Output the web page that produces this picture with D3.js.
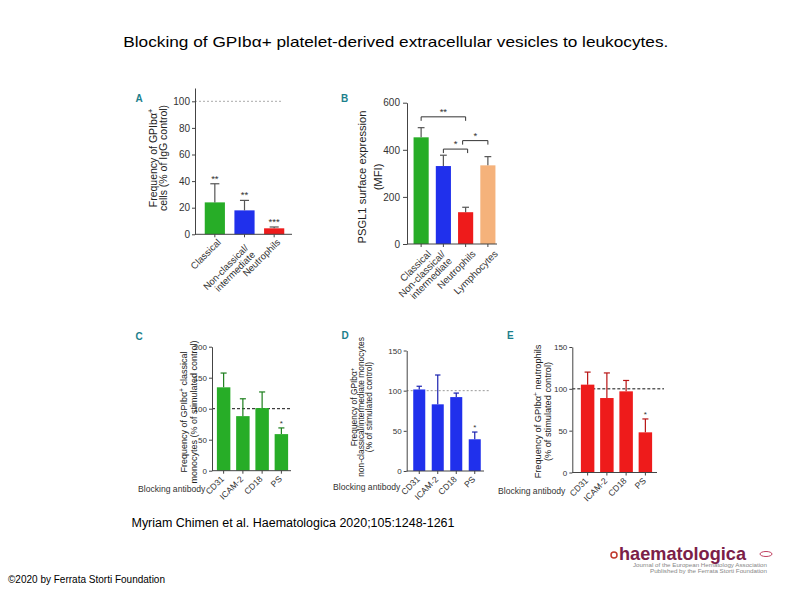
<!DOCTYPE html>
<html><head><meta charset="utf-8">
<script src="https://cdn.jsdelivr.net/npm/d3@7"></script>
<style>
body{margin:0;background:#fff}
text{font-family:"Liberation Sans",Arial,sans-serif}
</style>
</head><body>
<svg id="chart" width="794" height="595"></svg>
<script>
// ---------------- DATA ----------------
const titleText = "Blocking of GPIbα+ platelet-derived extracellular vesicles to leukocytes.";
const captionText = "Myriam Chimen et al. Haematologica 2020;105:1248-1261";
const footerText = "©2020 by Ferrata Storti Foundation";

// Panel A
const aCategories = [["Classical"], ["Non-classical/", "intermediate"], ["Neutrophils"]];
const aValues = [24, 18, 4.5];
const aErrors = [38, 25.5, 5.5];
const aStars = ["**", "**", "***"];
const aTicks = [0, 20, 40, 60, 80, 100];

// Panel B
const bCategories = [["Classical"], ["Non-classical/", "intermediate"], ["Neutrophils"], ["Lymphocytes"]];
const bValues = [453, 331, 135, 334];
const bErrors = [494, 377, 156, 371];
const bTicks = [0, 200, 400, 600];
const bBrackets = [[0, 2, 540, "**"], [1, 2, 403, "*"], [2, 3, 439, "*"]];

// Panels C, D, E (blocking antibodies)
const blockCategories = [["CD31"], ["ICAM-2"], ["CD18"], ["PS"]];
const cValues = [134.5, 88, 101, 59];
const cErrors = [157.5, 116, 127, 69];
const cStars = ["", "", "", "*"];
const cTicks = [0, 50, 100, 150, 200];

const dValues = [101.5, 83, 92, 39.5];
const dErrors = [105.5, 119.5, 97, 48.5];
const dStars = ["", "", "", "*"];
const dTicks = [0, 50, 100, 150];

const eValues = [105, 89, 97, 48];
const eErrors = [120, 119, 110, 64];
const eStars = ["", "", "", "*"];
const eTicks = [0, 50, 100, 150];

// ---------------- STYLE ----------------
const GREEN = "#27ad27", BLUE = "#2030ec", RED = "#ee1b1b", TAN = "#f5b27b";
const TEAL = "#1c7f8c";

const svg = d3.select("#chart");

function addLabelText(sel, s) {
  const idx = s.indexOf("GPIbα+");
  if (idx >= 0) {
    sel.append("tspan").text(s.slice(0, idx + 5));
    sel.append("tspan").attr("baseline-shift", "super").attr("font-size", "70%").text("+");
    sel.append("tspan").text(s.slice(idx + 6));
  } else sel.text(s);
}

function panel(cfg) {
  const g = svg.append("g");
  const y = d3.scaleLinear().domain(cfg.yDomain).range(cfg.yRange);
  const x = d3.scaleBand().domain(cfg.cats.map((d, i) => i)).range(cfg.xRange)
    .paddingInner(cfg.pad).paddingOuter(cfg.pad / 2);
  const y0 = y(0);

  if (cfg.refLine) {
    g.append("line").attr("x1", cfg.axisX).attr("x2", cfg.refEnd)
      .attr("y1", y(100)).attr("y2", y(100))
      .attr("stroke", cfg.refColor).attr("stroke-width", 1)
      .attr("stroke-dasharray", cfg.refDash);
  }

  g.selectAll("rect.bar").data(cfg.values).join("rect")
    .attr("x", (d, i) => x(i)).attr("width", x.bandwidth())
    .attr("y", d => y(d)).attr("height", d => y0 - y(d))
    .attr("fill", (d, i) => cfg.colors[i]);

  const cap = x.bandwidth() * 0.45;
  cfg.errors.forEach((e, i) => {
    const cx = x(i) + x.bandwidth() / 2;
    const col = cfg.errColor || cfg.colors[i];
    g.append("line").attr("x1", cx).attr("x2", cx).attr("y1", y(cfg.values[i])).attr("y2", y(e))
      .attr("stroke", col).attr("stroke-width", 1.2);
    g.append("line").attr("x1", cx - cap / 2).attr("x2", cx + cap / 2).attr("y1", y(e)).attr("y2", y(e))
      .attr("stroke", col).attr("stroke-width", 1.2);
    if (cfg.stars && cfg.stars[i]) {
      g.append("text").attr("x", cx).attr("y", y(e) - 2).attr("text-anchor", "middle")
        .attr("font-size", cfg.starSize).attr("fill", "#333").text(cfg.stars[i]);
    }
  });

  const ya = d3.axisLeft(y).tickValues(cfg.ticks).tickSize(cfg.tickSize).tickSizeOuter(0)
    .tickPadding(cfg.tickPad).tickFormat(d3.format("d"));
  const ag = g.append("g").attr("transform", `translate(${cfg.axisX},0)`).call(ya);
  ag.selectAll("path,line").attr("stroke", "#444").attr("stroke-width", 1);
  ag.selectAll("text").attr("font-size", cfg.tickFont).attr("fill", "#333")
    .attr("font-family", '"Liberation Sans",Arial,sans-serif');

  g.append("line").attr("x1", cfg.axisX).attr("x2", cfg.xEnd).attr("y1", y0).attr("y2", y0)
    .attr("stroke", "#444").attr("stroke-width", 1);
  cfg.cats.forEach((c, i) => {
    const cx = x(i) + x.bandwidth() / 2;
    g.append("line").attr("x1", cx).attr("x2", cx).attr("y1", y0).attr("y2", y0 + 3)
      .attr("stroke", "#444");
    const t = g.append("g").attr("transform", `translate(${cx},${y0}) rotate(-45)`);
    const multi = c.length > 1;
    c.forEach((line, k) => {
      t.append("text").attr("text-anchor", "end").attr("font-size", cfg.lblFont).attr("fill", "#333")
        .attr("x", multi ? cfg.lbl.mrx : cfg.lbl.rx)
        .attr("y", multi ? cfg.lbl.mry + k * cfg.lbl.gap : cfg.lbl.ry)
        .attr("dy", "0.35em").text(line);
    });
  });

  cfg.yLabel.forEach((line, k) => {
    const t = g.append("text")
      .attr("transform", `translate(${cfg.yLabelX[k]},${cfg.yLabelY}) rotate(-90)`)
      .attr("text-anchor", "middle").attr("dy", "0.35em")
      .attr("font-size", cfg.yLabelFont).attr("fill", "#222");
    addLabelText(t, line);
  });

  g.append("text").attr("x", cfg.letterPos[0]).attr("y", cfg.letterPos[1])
    .attr("font-size", 10).attr("font-weight", "bold").attr("fill", TEAL).text(cfg.letter);

  if (cfg.blockLabel) {
    g.append("text").attr("x", cfg.blockLabel[0]).attr("y", cfg.blockLabel[1])
      .attr("font-size", 8.6).attr("fill", "#333").text("Blocking antibody");
  }
  return {g, x, y};
}

// ---------------- PANELS ----------------
panel({
  letter: "A", letterPos: [135.5, 102],
  cats: aCategories, values: aValues, errors: aErrors, stars: aStars, starSize: 9.5,
  colors: [GREEN, BLUE, RED], errColor: "#555",
  yDomain: [0, 110], yRange: [234.3, 88], ticks: aTicks,
  xRange: [200, 289], pad: 0.32, axisX: 195, xEnd: 292,
  tickSize: 3, tickPad: 2, tickFont: 10,
  refLine: true, refEnd: 283, refColor: "#aaa", refDash: "2,2",
  lblFont: 9.5, lbl: {rx: -1.5, ry: 7.5, mrx: -7, mry: 10, gap: 9.5},
  yLabel: ["Frequency of GPIbα+", "cells (% of IgG control)"], yLabelX: [153, 163.5], yLabelY: 158, yLabelFont: 10.5
});

const B = panel({
  letter: "B", letterPos: [341, 102],
  cats: bCategories, values: bValues, errors: bErrors,
  colors: [GREEN, BLUE, RED, TAN], errColor: "#555",
  yDomain: [0, 600], yRange: [244, 102.7], ticks: bTicks,
  xRange: [410, 499], pad: 0.32, axisX: 407, xEnd: 497,
  tickSize: 4, tickPad: 3, tickFont: 10,
  refLine: false,
  lblFont: 9.8, lbl: {rx: 0, ry: 11.5, mrx: -6, mry: 6, gap: 9.5},
  yLabel: ["PSGL1 surface expression", "(MFI)"], yLabelX: [362.5, 378], yLabelY: 177, yLabelFont: 11.2
});
bBrackets.forEach(([i1, i2, v, s], k) => {
  const x1 = B.x(i1) + B.x.bandwidth() / 2 + (k === 2 ? -3 : 0);
  const x2 = B.x(i2) + B.x.bandwidth() / 2 + (k === 1 ? 2 : 0);
  const yy = B.y(v);
  B.g.append("path").attr("d", `M${x1},${yy + 4}V${yy}H${x2}V${yy + 4}`)
    .attr("fill", "none").attr("stroke", "#333").attr("stroke-width", 1);
  B.g.append("text").attr("x", (x1 + x2) / 2).attr("y", yy - 2).attr("text-anchor", "middle")
    .attr("font-size", 9.5).attr("fill", "#333").text(s);
});

panel({
  letter: "C", letterPos: [135.5, 340],
  cats: blockCategories, values: cValues, errors: cErrors, stars: cStars, starSize: 8,
  colors: [GREEN, GREEN, GREEN, GREEN], errColor: "#1d7f1d",
  yDomain: [0, 200], yRange: [470.7, 346.7], ticks: cTicks,
  xRange: [214, 291], pad: 0.3, axisX: 212, xEnd: 291,
  tickSize: 3, tickPad: 2, tickFont: 8,
  refLine: true, refEnd: 291, refColor: "#111", refDash: "3,2",
  lblFont: 8.6, lbl: {rx: -5.5, ry: 4, mrx: -5.5, mry: 4, gap: 9},
  yLabel: ["Frequency of GPIbα+ classical", "monocytes (% of stimulated control)"], yLabelX: [184, 193.5], yLabelY: 412, yLabelFont: 9,
  blockLabel: [138, 492]
});

panel({
  letter: "D", letterPos: [341.5, 339],
  cats: blockCategories, values: dValues, errors: dErrors, stars: dStars, starSize: 8,
  colors: [BLUE, BLUE, BLUE, BLUE], errColor: "#1a22b0",
  yDomain: [0, 150], yRange: [471, 350.5], ticks: dTicks,
  xRange: [410, 484], pad: 0.35, axisX: 406.7, xEnd: 484,
  tickSize: 3, tickPad: 2, tickFont: 8,
  refLine: true, refEnd: 490, refColor: "#999", refDash: "2,2",
  lblFont: 8.6, lbl: {rx: -5.5, ry: 4, mrx: -5.5, mry: 4, gap: 9},
  yLabel: ["Frequency of GPIbα+", "non-classical/intermediate monocytes", "(% of stimulated control)"],
  yLabelX: [354, 361.5, 369.5], yLabelY: 407, yLabelFont: 8.4,
  blockLabel: [333, 490]
});

panel({
  letter: "E", letterPos: [507, 339],
  cats: blockCategories, values: eValues, errors: eErrors, stars: eStars, starSize: 8,
  colors: [RED, RED, RED, RED], errColor: "#b81414",
  yDomain: [0, 150], yRange: [472.5, 347], ticks: eTicks,
  xRange: [578, 655], pad: 0.3, axisX: 572.3, xEnd: 657,
  tickSize: 3, tickPad: 2, tickFont: 8,
  refLine: true, refEnd: 664, refColor: "#111", refDash: "3,2",
  lblFont: 8.6, lbl: {rx: -5.5, ry: 4, mrx: -5.5, mry: 4, gap: 9},
  yLabel: ["Frequency of GPIbα+ neutrophils", "(% of stimulated control)"], yLabelX: [537.5, 548], yLabelY: 411.5, yLabelFont: 9.2,
  blockLabel: [498, 494]
});

// ---------------- TEXTS ----------------
svg.append("text").attr("x", 123.3).attr("y", 47).attr("font-size", 14.5).attr("fill", "#000")
  .attr("textLength", 545).attr("lengthAdjust", "spacingAndGlyphs").text(titleText);
svg.append("text").attr("x", 131.5).attr("y", 527).attr("font-size", 12).attr("fill", "#000")
  .attr("textLength", 323).attr("lengthAdjust", "spacingAndGlyphs").text(captionText);
svg.append("text").attr("x", 8).attr("y", 583).attr("font-size", 10).attr("fill", "#000")
  .attr("textLength", 157).attr("lengthAdjust", "spacingAndGlyphs").text(footerText);

// logo
const logo = svg.append("g");
logo.append("circle").attr("cx", 614).attr("cy", 555).attr("r", 3).attr("fill", "none").attr("stroke", "#c0392b").attr("stroke-width", 1.5);
logo.append("text").attr("x", 619).attr("y", 560).attr("font-size", 19).attr("font-weight", "bold")
  .attr("fill", "#7b2048").attr("textLength", 127).attr("lengthAdjust", "spacingAndGlyphs").text("haematologica");
logo.append("text").attr("x", 633).attr("y", 567).attr("font-size", 4.6).attr("fill", "#888")
  .attr("textLength", 134).attr("lengthAdjust", "spacingAndGlyphs").text("Journal of the European Hematology Association");
logo.append("text").attr("x", 650).attr("y", 573).attr("font-size", 4.6).attr("fill", "#888")
  .attr("textLength", 117).attr("lengthAdjust", "spacingAndGlyphs").text("Published by the Ferrata Storti Foundation");
logo.append("ellipse").attr("cx", 766).attr("cy", 554).attr("rx", 6).attr("ry", 2.5).attr("fill", "none").attr("stroke", "#c04060").attr("stroke-width", 1);
</script>
</body></html>
